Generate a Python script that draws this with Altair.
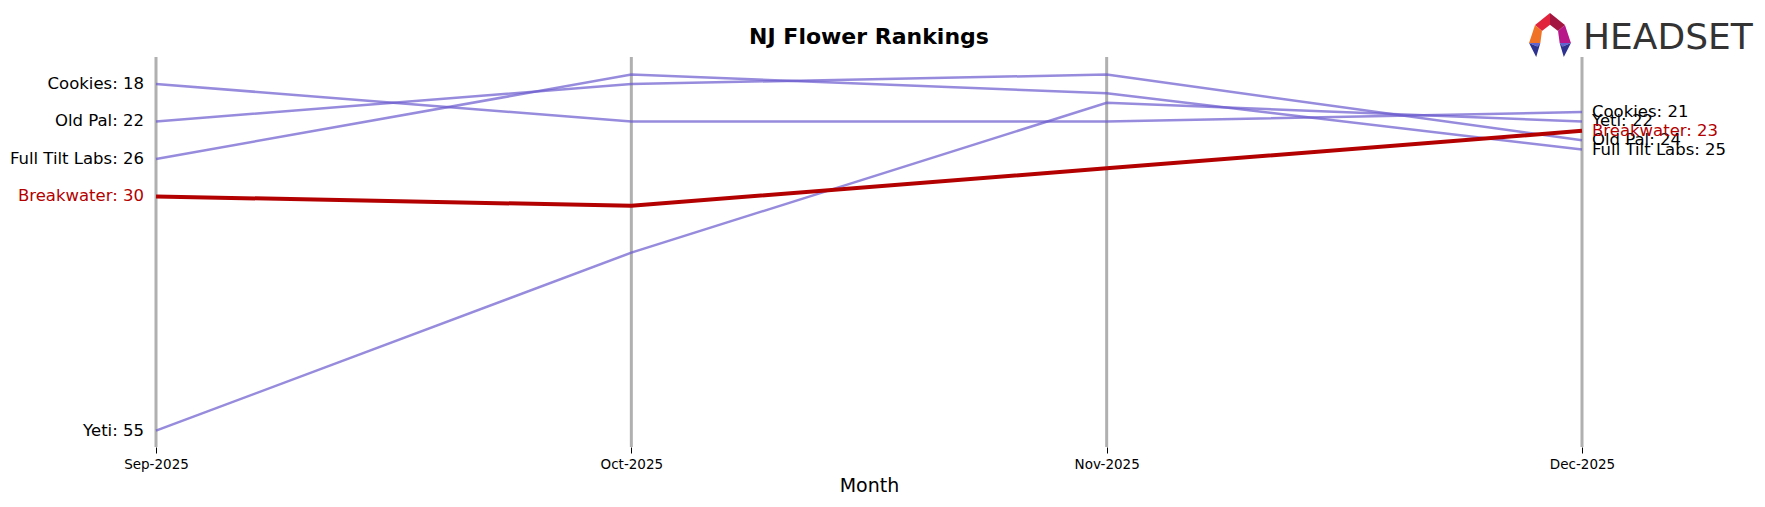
import altair as alt
import pandas as pd

# ---- data ----
months = ["Sep-2025", "Oct-2025", "Nov-2025", "Dec-2025"]
brands = ["Cookies", "Old Pal", "Full Tilt Labs", "Yeti", "Breakwater"]
cookies = [18, 22, 22, 21]
old_pal = [22, 18, 17, 24]
full_tilt = [26, 17, 19, 25]
yeti = [55, 36, 20, 22]
breakwater = [30, 31, 27, 23]
highlight = "Breakwater"
title_text = "NJ Flower Rankings"
logo_text = "HEADSET"

series = [cookies, old_pal, full_tilt, yeti, breakwater]
rows = []
for b, vals in zip(brands, series):
    for m, v in zip(months, vals):
        rows.append({"brand": b, "month": m, "rank": v})
df = pd.DataFrame(rows)
df["label"] = df["brand"] + ": " + df["rank"].astype(str)

W, H = 1426, 390
RED = "#b30000"
PURPLE = "#6a5acd"

xenc = alt.X(
    "month:O",
    sort=months,
    scale=alt.Scale(type="point", padding=0),
    axis=alt.Axis(
        title="Month",
        labelAngle=0,
        labelFontSize=13.5,
        labelColor="black",
        labelFont="DejaVu Sans",
        tickColor="black",
        tickSize=6,
        tickWidth=1,
        domain=False,
        grid=False,
        labelPadding=4,
        titleFont="DejaVu Sans",
        titleFontSize=19,
        titleFontWeight="normal",
        titleColor="black",
        titlePadding=6,
    ),
)
yscale = alt.Scale(domain=[15.12, 56.74], reverse=True, nice=False, zero=False)
yenc = alt.Y("rank:Q", scale=yscale, axis=None)

base = alt.Chart(df)

rules = alt.Chart(pd.DataFrame({"month": months})).mark_rule(
    color="#b0b0b0", strokeWidth=3
).encode(x=xenc, y=alt.value(0), y2=alt.value(H))

others = base.transform_filter(alt.datum.brand != highlight).mark_line(
    color=PURPLE, opacity=0.7, strokeWidth=2.5
).encode(x=xenc, y=yenc, detail="brand:N")

hl = base.transform_filter(alt.datum.brand == highlight).mark_line(
    color=RED, strokeWidth=4
).encode(x=xenc, y=yenc)

txtcolor = alt.condition(alt.datum.brand == highlight, alt.value(RED), alt.value("black"))

left_labels = base.transform_filter(alt.datum.month == months[0]).mark_text(
    align="right", baseline="middle", dx=-12, fontSize=16.5, font="DejaVu Sans"
).encode(x=xenc, y=yenc, text="label:N", color=txtcolor)

right_labels = base.transform_filter(alt.datum.month == months[-1]).mark_text(
    align="left", baseline="middle", dx=10, fontSize=16.5, font="DejaVu Sans"
).encode(x=xenc, y=yenc, text="label:N", color=txtcolor)

title = alt.Chart(pd.DataFrame({"t": [title_text]})).mark_text(
    fontSize=22, fontWeight="bold", color="black", baseline="middle", align="center",
    font="DejaVu Sans",
).encode(x=alt.value(W / 2), y=alt.value(-20), text="t:N")

logo = alt.Chart(pd.DataFrame({"t": [logo_text]})).mark_text(
    fontSize=36, color="#333333", baseline="middle", align="left", font="DejaVu Sans",
).encode(x=alt.value(1427), y=alt.value(-19), text="t:N")

# logo icon pieces (decorative)
icon_parts = [
    ("M -0.65 -0.43 L 0 -0.96 L 0 -0.45 L -0.35 -0.17 Z", "#e1233c"),
    ("M 0 -0.96 L 0.65 -0.43 L 0.35 -0.17 L 0 -0.45 Z", "#a3163f"),
    ("M -0.65 -0.43 L -0.35 -0.17 L -0.42 0.35 L -0.91 0.35 Z", "#f07224"),
    ("M 0.65 -0.43 L 0.91 0.35 L 0.42 0.35 L 0.35 -0.17 Z", "#b8178a"),
    ("M -0.91 0.35 L -0.42 0.35 L -0.55 0.5 Z", "#6064d2"),
    ("M -0.91 0.35 L -0.55 0.5 L -0.42 0.35 L -0.6 0.96 Z", "#2e338f"),
    ("M 0.91 0.35 L 0.42 0.35 L 0.55 0.5 Z", "#6064d2"),
    ("M 0.91 0.35 L 0.55 0.5 L 0.42 0.35 L 0.6 0.96 Z", "#2e338f"),
]
icons = []
for path, col in icon_parts:
    icons.append(
        alt.Chart(pd.DataFrame({"a": [0]})).mark_point(
            shape=path, filled=True, fill=col, opacity=1, strokeWidth=0, size=46 * 46
        ).encode(x=alt.value(1394), y=alt.value(-22))
    )

chart = alt.layer(rules, others, hl, left_labels, right_labels, title, logo, *icons).properties(
    width=W,
    height=H,
    autosize=alt.AutoSizeParams(type="none"),
    padding={"left": 148, "top": 49, "right": 175, "bottom": 52},
).configure(font="DejaVu Sans").configure_view(stroke=None, strokeWidth=0)

chart.save("out.html", embed_options={"renderer": "svg", "actions": False})
